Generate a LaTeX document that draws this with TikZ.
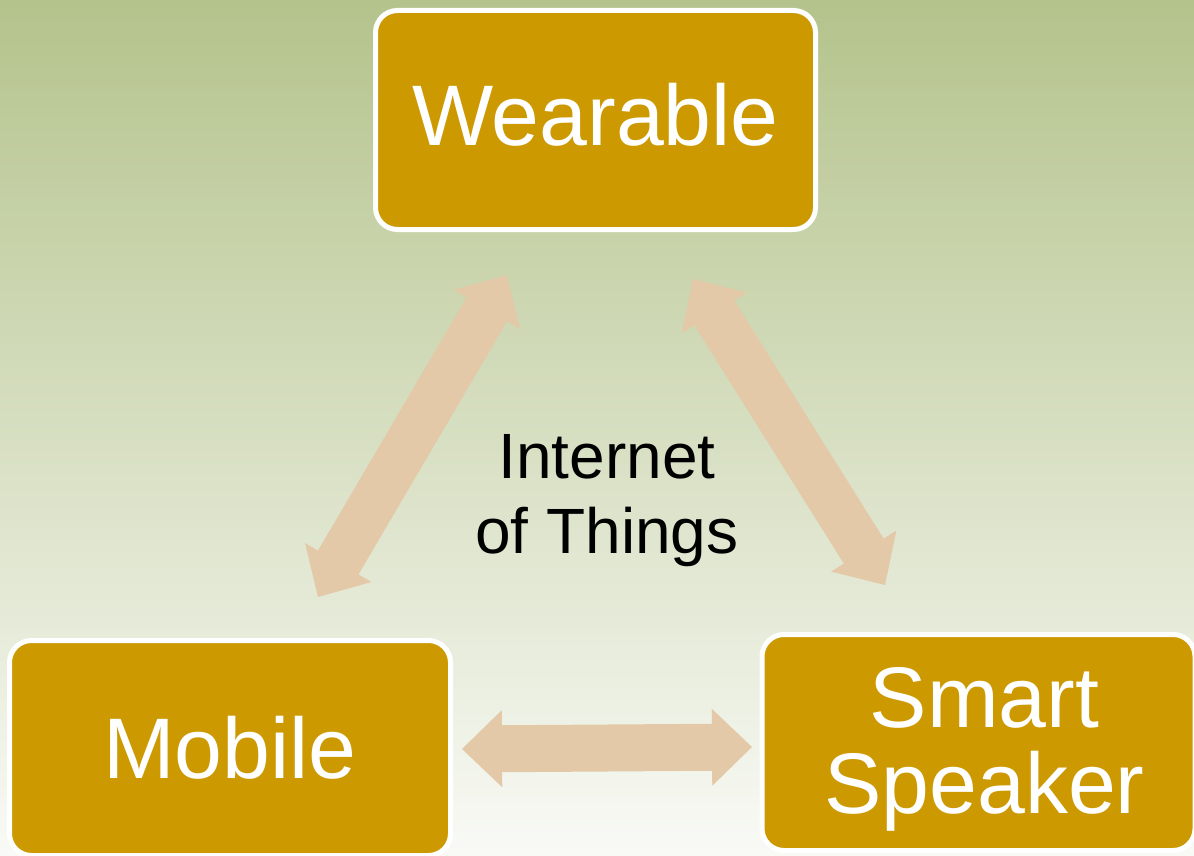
\documentclass[tikz,border=0pt]{standalone}
\usepackage{fontspec}
\setmainfont{Liberation Sans}
\usetikzlibrary{calc}
\definecolor{bgtop}{RGB}{180,195,140}
\definecolor{bgbot}{RGB}{249,250,246}
\definecolor{boxfill}{RGB}{204,153,0}
\definecolor{arrowfill}{RGB}{227,201,168}
% double block arrow between two named coordinates
\newcommand\dblblockarrow[2]{%
  \coordinate (#1h) at ($(#1)!40pt!(#2)$);
  \coordinate (#2h) at ($(#2)!40pt!(#1)$);
  \fill[arrowfill] (#1)
    -- ($(#1h)!38.5pt!90:(#2)$) -- ($(#1h)!23.5pt!90:(#2)$)
    -- ($(#2h)!23.5pt!-90:(#1)$) -- ($(#2h)!38.5pt!-90:(#1)$)
    -- (#2)
    -- ($(#2h)!38.5pt!90:(#1)$) -- ($(#2h)!23.5pt!90:(#1)$)
    -- ($(#1h)!23.5pt!-90:(#2)$) -- ($(#1h)!38.5pt!-90:(#2)$)
    -- cycle;}
\tikzset{
  devbox/.style={draw=white, line width=5pt, fill=boxfill, rounded corners=22pt,
    inner sep=0pt, text=white, font=\fontsize{86}{86}\selectfont, align=center},
  iotlabel/.style={inner sep=0pt, text=black, align=center,
    font=\fontsize{64}{75}\selectfont}
}
\begin{document}
\begin{tikzpicture}[x=1pt,y=-1pt]
\useasboundingbox (0,0) rectangle (1194,856);
\shade[top color=bgtop, bottom color=bgbot] (0,0) rectangle (1194,856);

\node[devbox, minimum width=440pt, minimum height=219pt, text height=52pt, text depth=0pt]
  (wear) at (595.5,120) {Wearable};
\node[devbox, minimum width=441pt, minimum height=215pt, text height=60pt, text depth=0pt]
  (mob) at (230,748) {Mobile};
\node[devbox, minimum width=433pt, minimum height=216pt, text height=149pt, text depth=8pt]
  (spk) at (978.5,742.5) {\hspace*{12pt}Smart\\\hspace*{12pt}Speaker};

\node[iotlabel] (iot) at (607,501) {Internet\\of Things};

\coordinate (mobTL) at (318,597);
\coordinate (wearBL) at (507,275);
\coordinate (wearBR) at (693,279);
\coordinate (spkTL) at (885,585);
\coordinate (mobR) at (462,749);
\coordinate (spkL) at (752,747);

\dblblockarrow{mobTL}{wearBL}
\dblblockarrow{wearBR}{spkTL}
\dblblockarrow{mobR}{spkL}
\end{tikzpicture}
\end{document}
